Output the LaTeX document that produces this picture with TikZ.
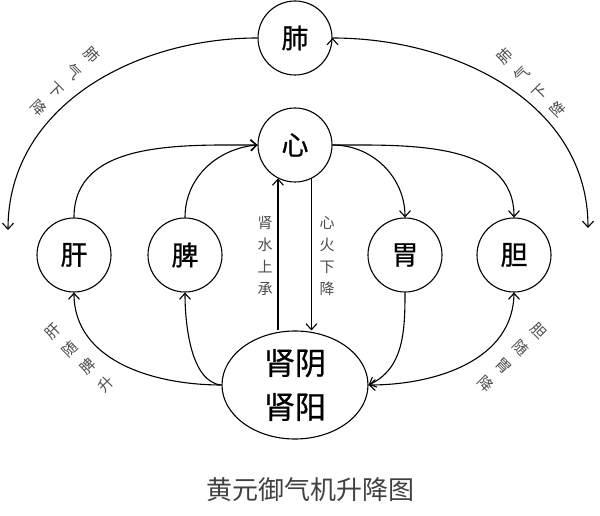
\documentclass[tikz,border=0pt]{standalone}
\usepackage{fontspec}
\setmainfont{Noto Sans CJK SC}
\newfontfamily\organfont[FakeBold=0.8]{Noto Sans CJK SC}
\usetikzlibrary{positioning, arrows.meta, shapes.geometric}

\tikzset{
    organ/.style={circle, draw, line width=1.1pt, minimum size=74pt, inner sep=0pt, font=\organfont\fontsize{27}{30}\selectfont},
    root/.style={ellipse, draw, line width=1.1pt, minimum width=146pt, minimum height=108pt, inner sep=0pt, align=center, font=\organfont\fontsize{31}{44}\selectfont},
    vlabel/.style={text=black!70, align=center, font=\fontsize{15}{22}\selectfont},
    arclabel/.style={text=black!70, align=center, font=\fontsize{15}{25}\selectfont},
}

\begin{document}
\begin{tikzpicture}[x=1pt, y=1pt, line width=1.1pt, >={Straight Barb[length=6pt,width=11pt]}]
    \useasboundingbox (0,0) rectangle (600,515);

    \node[root] (kidney) at (295,130) {肾阴\\肾阳};
    \node[organ, above of=kidney, node distance=240pt] (heart) {心};
    \node[organ, above of=heart, node distance=107pt] (lung) {肺};
    \node[organ] (spleen) at (185,260) {脾};
    \node[organ, left of=spleen, node distance=111pt] (liver) {肝};
    \node[organ] (stomach) at (405,260) {胃};
    \node[organ, right of=stomach, node distance=109pt] (gall) {胆};

    \coordinate (lungL) at (8,285);
    \coordinate (lungR) at (588,287);

    % lung qi descends on both sides
    \draw[->]
        (lung.west) edge[out=180, in=90] (lungL)
        (lung.east) edge[out=0, in=90] (lungR)
        ;

    % left side rises, right side descends
    \draw[->]
        (liver.north) edge[out=90, in=180] (heart.west)
        (spleen.north) edge[out=90, in=185] (heart.west)
        (heart.east) edge[out=0, in=90] (stomach.north)
        (heart.east) edge[out=0, in=90] (gall.north)
        (kidney.west) edge[out=180, in=-90] (liver.south)
        (kidney.west) edge[out=175, in=-90, looseness=0.8] (spleen.south)
        (stomach.south) edge[out=-90, in=25] (kidney.east)
        (gall.south) edge[out=-90, in=0] (kidney.east)
        ;

    % water up, fire down
    \draw[->] (heart.-117 |- kidney.north) -- (heart.-117);
    \draw[->] (heart.-64) -- (heart.-64 |- kidney.north);

    \node[vlabel] (water) at (265,259) {肾\\水\\上\\承};
    \node[vlabel] (fire) at (327,259) {心\\火\\下\\降};
    \node[arclabel, rotate=-45] (lungtxtL) at (65,434) {肺\\气\\下\\降};
    \node[arclabel, rotate=45] (lungtxtR) at (531,432) {肺\\气\\下\\降};
    \node[arclabel, rotate=45] (livertxt) at (79,157) {肝\\随\\脾\\升};
    \node[arclabel, rotate=-45] (galltxt) at (512,158) {胆\\随\\胃\\降};

    \node[text=black!75, font=\fontsize{26}{30}\selectfont] (title) at (310,25) {黄元御气机升降图};
\end{tikzpicture}
\end{document}
